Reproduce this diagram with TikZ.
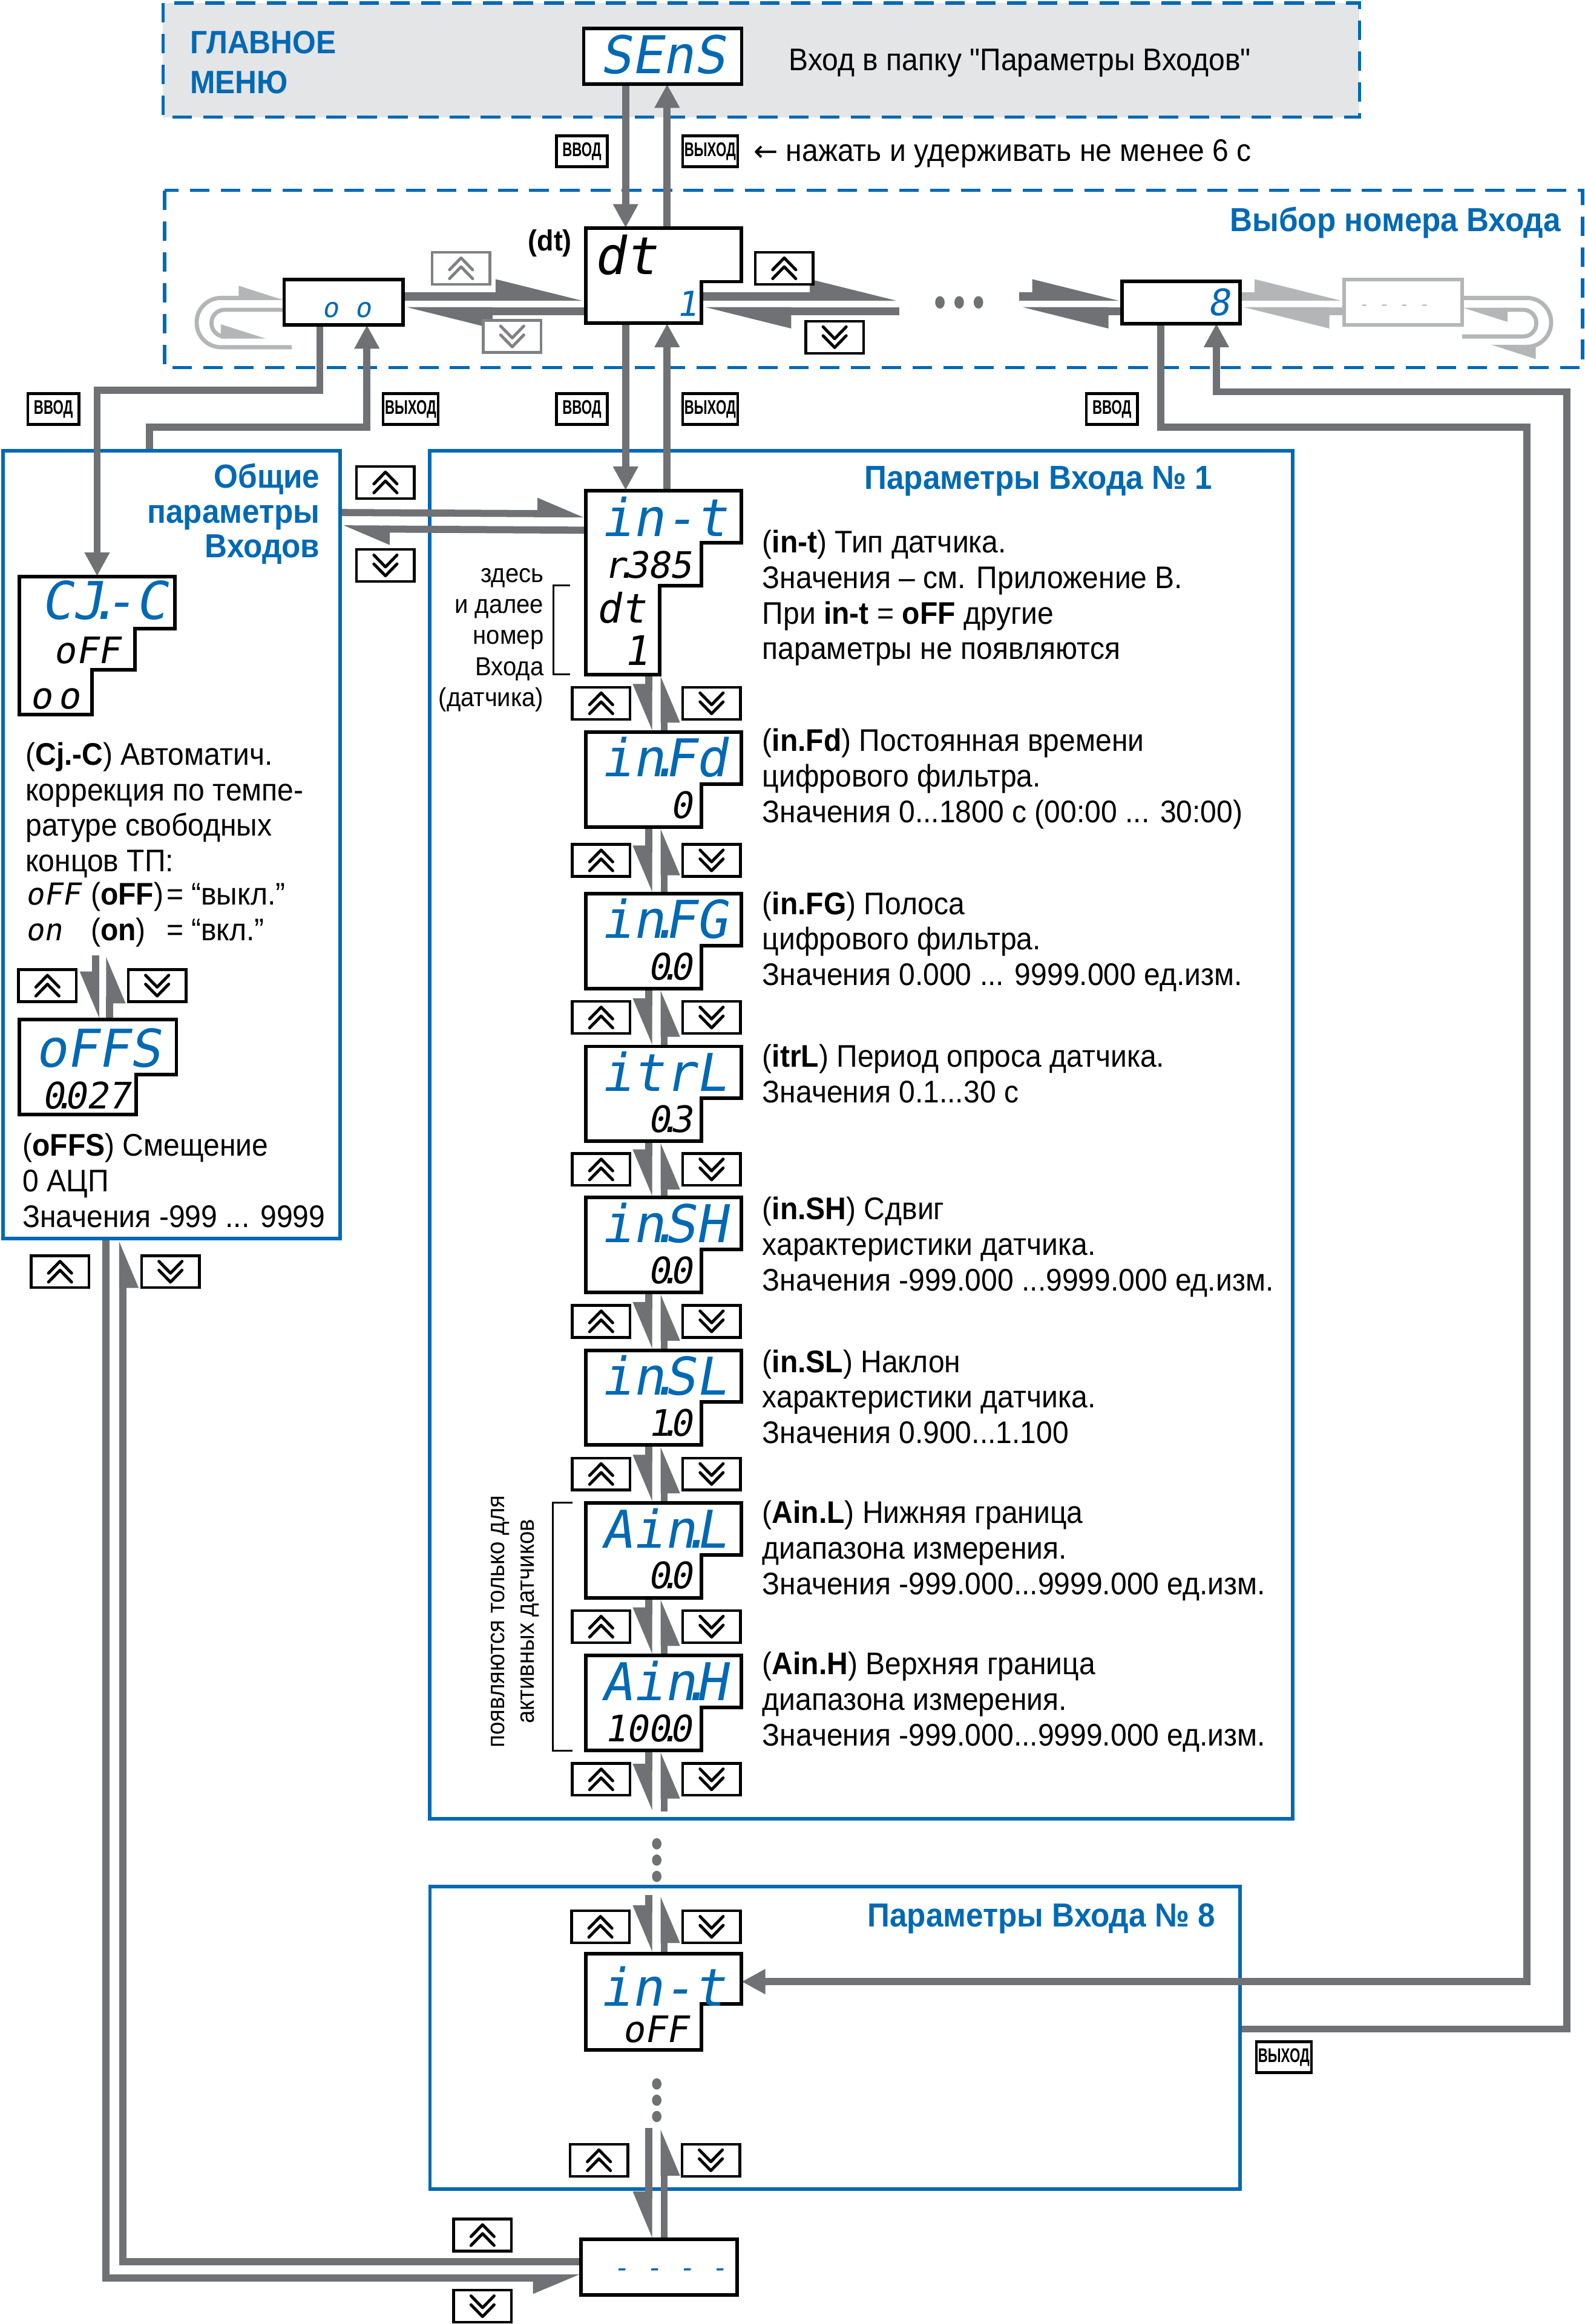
\documentclass[tikz,border=0pt]{standalone}
\usepackage{fontspec}
\setmainfont[FakeStretch=0.93, Ligatures=TeXOff]{Liberation Sans}
\newfontfamily\segfont[FakeSlant=0.18]{DejaVu Sans Mono}
\newfontfamily\keyfont[FakeStretch=0.68]{Liberation Sans}
\newfontfamily\symfont{DejaVu Sans}
\usepackage{tikz}
\usetikzlibrary{arrows.meta, positioning, calc}
\definecolor{owblue}{RGB}{0,105,180}
\definecolor{owgray}{RGB}{112,113,116}
\definecolor{owfade}{RGB}{180,181,183}
\definecolor{owmenu}{RGB}{228,229,231}
\definecolor{owkey}{RGB}{128,129,132}
\newcommand\segdot{\kern-.3em.\kern-.3em}
\tikzset{
  dashbox/.style={draw=owblue, line width=0.55mm, dash pattern=on 3.3mm off 1.9mm},
  panel/.style={rectangle, draw=owblue, line width=0.6mm, inner sep=0pt},
  area/.style={rectangle, inner sep=0pt},
  disp/.style={draw=black, fill=white, line width=0.6mm},
  bigseg/.style={font=\segfont\fontsize{25}{25}\selectfont, text=owblue, inner sep=0pt},
  midseg/.style={font=\segfont\fontsize{19.5}{20}\selectfont, inner sep=0pt},
  smallseg/.style={font=\segfont\fontsize{17.5}{18}\selectfont, inner sep=0pt},
  rowseg/.style={font=\segfont\fontsize{14.5}{15}\selectfont, inner sep=0pt},
  txt/.style={font=\fontsize{15}{17.07}\selectfont, inner sep=0pt},
  desc/.style={txt, anchor=north west, align=left},
  small/.style={font=\fontsize{12.5}{14.9}\selectfont, inner sep=0pt},
  ttl/.style={font=\bfseries\fontsize{16}{16.7}\selectfont, text=owblue, inner sep=0pt},
  keylabel/.style={rectangle, draw=black, fill=white, line width=0.45mm,
    font=\keyfont\bfseries\fontsize{9.5}{9.5}\selectfont,
    minimum width=8.6mm, minimum height=5.2mm, inner xsep=0.3mm, inner ysep=0pt},
  chev/.style={line width=0.5mm, line cap=round, line join=round},
  btn/.style={rectangle, draw=#1, fill=white, line width=0.45mm,
    minimum width=9.75mm, minimum height=5.4mm, inner sep=0pt},
  upkey/.style={btn=#1, path picture={
    \draw[chev, draw=#1]
      ([xshift=-1.95mm, yshift=-1.75mm]path picture bounding box.center) -- ++(1.95mm,2mm) -- ++(1.95mm,-2mm)
      ([xshift=-1.95mm, yshift=-0.25mm]path picture bounding box.center) -- ++(1.95mm,2mm) -- ++(1.95mm,-2mm);}},
  upkey/.default=black,
  dnkey/.style={btn=#1, path picture={
    \draw[chev, draw=#1]
      ([xshift=-1.95mm, yshift=1.75mm]path picture bounding box.center) -- ++(1.95mm,-2mm) -- ++(1.95mm,2mm)
      ([xshift=-1.95mm, yshift=0.25mm]path picture bounding box.center) -- ++(1.95mm,-2mm) -- ++(1.95mm,2mm);}},
  dnkey/.default=black,
  conn/.style={draw=owgray, line width=1.2mm},
  arr/.style={conn, -{Triangle[length=4mm, width=4mm]}},
  harpl/.style={conn, -{Triangle[harpoon, length=6.5mm, width=5mm]}},
  harpr/.style={conn, -{Triangle[harpoon, swap, length=6.5mm, width=5mm]}},
  band/.style={draw=owgray, line width=1.4mm, -{Triangle[harpoon, length=12mm, width=5.4mm]}},
  fband/.style={band, draw=owfade},
  wraparr/.style={draw=owfade, line width=0.7mm, -{Triangle[harpoon, length=6.5mm, width=3.9mm]}}
}

\begin{document}
\begin{tikzpicture}[x=0.25mm, y=-0.25mm]
  \useasboundingbox (0,0) rectangle (1069,1568);
  % frames
  \draw[dashbox, fill=owmenu] (110,2) rectangle (917,79);
  \draw[dashbox] (111,128.5) rectangle (1067.5,248);
  \node[panel, minimum width=56.875mm, minimum height=132.875mm] (gen) at (115.75,569.75) {};
  \node[panel, minimum width=145.5mm, minimum height=230.75mm] (p1) at (581,765.5) {};
  \node[panel, minimum width=136.6mm, minimum height=51mm] (p8) at (563.25,1375) {};

  % display places
  \node[area, minimum width=26.5mm, minimum height=9.25mm] (sens) at (447,38) {};
  \node[area, minimum width=26.25mm, minimum height=16mm] (dt) at (447.5,186) {};
  \node[area, minimum width=19.9mm, minimum height=7.5mm] (oo) at (231.75,204) {};
  \node[area, minimum width=20mm, minimum height=5mm] (hdots) at (647,204) {};
  \node[area, minimum width=19.75mm, minimum height=7mm] (inp8) at (796.5,204) {};
  \node[area, minimum width=19.75mm, minimum height=7.5mm] (fade) at (946.5,204) {};
  \node[area, minimum width=26.25mm, minimum height=23.25mm] (cjc) at (65.5,435.5) {};
  \node[area, minimum width=26.5mm, minimum height=16mm] (offs) at (66,720) {};
  \node[area, minimum width=26.25mm, minimum height=31mm] (d0) at (447.5,393) {};
  \foreach \i/\yy in {1/494, 2/603, 3/706, 4/808, 5/911, 6/1014, 7/1117}
    \node[area, minimum width=26.25mm, minimum height=16mm] (d\i) at (447.5,\yy+32) {};
  \node[area, minimum width=26.25mm, minimum height=16.25mm] (int8) at (447.5,1350.5) {};
  \node[area, minimum width=26.25mm, minimum height=9.25mm] (dsh) at (444.5,1529.5) {};
  \node[area, minimum size=3mm] (vdots1) at (443,1255) {};
  \node[area, minimum size=3mm] (vdots2) at (443,1417) {};

  % main menu <-> input number
  \draw[arr] ($(sens.south)+(-25,0)$) -- ($(dt.north)+(-25.5,0)$);
  \draw[arr] ($(dt.north)+(2.5,0)$) -- ($(sens.south)+(3,0)$);

  % input number row
  \draw[band] ($(oo.east)+(0,-4)$) -- ($(oo.east -| dt.west)+(0,-4)$);
  \draw[band] ($(oo.east -| dt.west)+(0,6)$) -- ($(oo.east)+(0,6)$);
  \draw[band] ($(dt.east |- oo.east)+(-27,-4)$) -- ($(hdots.west)+(0,-4)$);
  \draw[band] ($(hdots.west)+(0,6)$) -- ($(dt.east |- oo.east)+(-27,6)$);
  \draw[band] ($(hdots.east)+(0,-4)$) -- ($(inp8.west)+(0,-4)$);
  \draw[band] ($(inp8.west)+(0,6)$) -- ($(hdots.east)+(0,6)$);
  \draw[fband] ($(inp8.east)+(0,-4)$) -- ($(fade.west)+(0,-4)$);
  \draw[fband] ($(fade.west)+(0,6)$) -- ($(inp8.east)+(0,6)$);
  \foreach \x in {-13,0,13}
    \fill[owgray] ($(hdots.center)+(\x,0)$) ellipse [x radius=0.8mm, y radius=1.05mm];

  % wrap round
  \draw[wraparr, rounded corners=4.1mm] ($(oo.south west)+(5,15)$) -| ($(oo.west)+(-59,-3)$) -- ($(oo.west)+(0,-3)$);
  \draw[wraparr, rounded corners=2.2mm] ($(oo.west)+(0,5)$) -- ($(oo.west)+(-49,5)$) |- ($(oo.west)+(-12,23)$);
  \draw[wraparr, rounded corners=4.1mm] ($(fade.east)+(0,-3)$) -- ($(fade.east)+(60,-3)$) |- ($(fade.east)+(19,30)$);
  \draw[wraparr, rounded corners=2.2mm] ($(fade.east)+(0,23)$) -- ($(fade.east)+(50,23)$) |- ($(fade.east)+(0,5)$);

  % enter / exit
  \draw[arr] ($(oo.south)+(-16,0)$) |- ($(cjc.north)+(0,-125.5)$) -- (cjc.north);
  \draw[arr] ($(gen.north west)+(100,0)$) |- ($(oo.south)+(15.75,69)$) -- ($(oo.south)+(15.75,0)$);
  \draw[arr] ($(dt.south)+(-25.5,0)$) -- ($(d0.north)+(-25.5,0)$);
  \draw[arr] ($(d0.north)+(2.5,0)$) -- ($(dt.south)+(2.5,0)$);
  \draw[arr] ($(inp8.south)+(-13.5,0)$) |- ($(inp8.south)+(233.5,70)$) |- ($(int8.east)+(0,-13.5)$);
  \draw[arr] ($(p8.east)+(0,-6)$) -| ($(inp8.south)+(260.5,46)$) -| ($(inp8.south)+(24,0)$);

  % general <-> input 1, general <-> end
  \draw[harpl] ($(gen.north east)+(0,43)$) -- ($(d0.north west)+(0,16)$);
  \draw[harpl] ($(d0.north west)+(0,27)$) -- ($(gen.north east)+(0,54)$);
  \draw[harpr] ($(gen.south west)+(70.5,0)$) |- ($(dsh.west)+(0,7.5)$);
  \draw[harpr] ($(dsh.west)+(0,-3.5)$) -| ($(gen.south west)+(82,0)$);
  \draw[harpr] ($(offs.north)+(-1.5,-43)$) -- ($(offs.north)+(-1.5,0)$);
  \draw[harpr] ($(offs.north)+(8,0)$) -- ($(offs.north)+(8,-43)$);

  % parameter steps
  \foreach \a/\b in {d0/d1, d1/d2, d2/d3, d3/d4, d4/d5, d5/d6, d6/d7} {
    \draw[harpr] ($(\a.south)+(-10,0)$) -- ($(\b.north)+(-10,0)$);
    \draw[harpr] ($(\b.north)+(0.5,0)$) -- ($(\a.south)+(0.5,0)$);
  }
  \draw[harpr] ($(d7.south)+(-10,0)$) -- ($(d7.south)+(-10,41)$);
  \draw[harpr] ($(d7.south)+(0.5,41)$) -- ($(d7.south)+(0.5,0)$);
  \foreach \y in {-11,0,11}
    \fill[owgray] ($(vdots1.center)+(0,\y)$) ellipse [x radius=0.8mm, y radius=0.95mm];
  \draw[harpr] ($(int8.north)+(-10,-39)$) -- ($(int8.north)+(-10,0)$);
  \draw[harpr] ($(int8.north)+(0.5,0)$) -- ($(int8.north)+(0.5,-39)$);
  \foreach \y in {-11,0,11}
    \fill[owgray] ($(vdots2.center)+(0,\y)$) ellipse [x radius=0.8mm, y radius=0.95mm];
  \draw[harpr] ($(dsh.north)+(-7,-75)$) -- ($(dsh.north)+(-7,0)$);
  \draw[harpr] ($(dsh.north)+(3.5,0)$) -- ($(dsh.north)+(3.5,-75)$);

  % displays
  \draw[disp] (sens.south west) rectangle (sens.north east);
  \node[bigseg] (senst) at (447,37) {SEnS};
  \draw[disp] (395,154) -- (500,154) -- (500,190) -- (473,190) -- (473,218) -- (395,218) -- cycle;
  \node[bigseg, text=black] (dtt) at (422,172) {dt};
  \node[smallseg, text=owblue, font=\segfont\fontsize{16.5}{17}\selectfont] (dtn) at (463,205) {1};
  \draw[disp] (oo.south west) rectangle (oo.north east);
  \node[text=owblue, font=\segfont\fontsize{13}{13}\selectfont, inner sep=0pt] (oot) at (234,209) {o o};
  \draw[disp] (inp8.south west) rectangle (inp8.north east);
  \node[smallseg, text=owblue] (inp8t) at (822,204) {8};
  \draw[disp, draw=owfade] (fade.south west) rectangle (fade.north east);
  \node[text=owfade, font=\segfont\fontsize{8}{8}\selectfont, inner sep=0pt] (fadet) at (940,207.5) {- - - -};

  \draw[disp] (13,389) -- (118,389) -- (118,424) -- (91,424) -- (91,452) -- (62,452) -- (62,482) -- (13,482) -- cycle;
  \node[bigseg] (cjct) at (70,405) {CJ\segdot -C};
  \node[smallseg, anchor=east] (cjcv) at (81,439) {oFF};
  \node[smallseg] (cjcn) at (37,471.5) {o\kern.15em o};
  \draw[disp] (13,688) -- (119,688) -- (119,725) -- (92,725) -- (92,752) -- (13,752) -- cycle;
  \node[bigseg] (offst) at (66,707) {oFFS};
  \node[smallseg, anchor=east] (offsv) at (88,739) {0\segdot 027};

  \draw[disp] (395,331) -- (500,331) -- (500,366) -- (473,366) -- (473,395) -- (445,395) -- (445,455) -- (395,455) -- cycle;
  \node[bigseg] (d0t) at (448,348.5) {in-t};
  \node[smallseg] (d0r) at (437,381) {r\segdot 385};
  \node[midseg] (d0d) at (419,410) {dt};
  \node[midseg] (d0n) at (429,439) {1};
  \foreach \i/\yy/\nm/\val in {1/494/{in\segdot Fd}/0, 2/603/{in\segdot FG}/{0\segdot 0},
      3/706/{itrL}/{0\segdot 3}, 4/808/{in\segdot SH}/{0\segdot 0}, 5/911/{in\segdot SL}/{1\segdot 0},
      6/1014/{Ain\segdot L}/{0\segdot 0}, 7/1117/{Ain\segdot H}/{100\segdot 0}} {
    \draw[disp] (395,\yy) -- (500,\yy) -- (500,\yy+35) -- (473,\yy+35) -- (473,\yy+64) -- (395,\yy+64) -- cycle;
    \node[bigseg] (n\i) at (448,\yy+17) {\nm};
    \node[smallseg, anchor=east] (v\i) at (467,\yy+49) {\val};
  }
  \draw[disp] (395,1318) -- (500,1318) -- (500,1352) -- (473,1352) -- (473,1383) -- (395,1383) -- cycle;
  \node[bigseg] (int8t) at (447,1340) {in-t};
  \node[smallseg] (int8v) at (442,1369) {oFF};
  \draw[disp] (dsh.south west) rectangle (dsh.north east);
  \node[text=owblue, font=\segfont\fontsize{13}{13}\selectfont, inner sep=0pt] (dsht) at (452,1533.5) {- - - -};

  % keys
  \node[upkey=owkey] (kfu) at (311,181) {};
  \node[dnkey=owkey] (kfd) at (345.5,227) {};
  \node[upkey] (kbu) at (529,181) {};
  \node[dnkey] (kbd) at (563,227.5) {};
  \node[upkey] (kgu) at (260,325.5) {};
  \node[dnkey] (kgd) at (260,381.5) {};
  \node[upkey] (kcu) at (32,665) {};
  \node[dnkey] (kcd) at (106,665) {};
  \node[upkey] (keu) at (40.5,858) {};
  \node[dnkey] (ked) at (115,858) {};
  \foreach \a/\b in {d0/d1, d1/d2, d2/d3, d3/d4, d4/d5, d5/d6, d6/d7} {
    \node[upkey] (ku\b) at ($(\a.south)!0.5!(\b.north)+(-42,0)$) {};
    \node[dnkey] (kd\b) at ($(\a.south)!0.5!(\b.north)+(32.5,0)$) {};
  }
  \node[upkey] (kul) at (405.5,1200.5) {};
  \node[dnkey] (kdl) at (480,1200.5) {};
  \node[upkey] (k8u) at (405,1300) {};
  \node[dnkey] (k8d) at (480,1300) {};
  \node[upkey] (k8eu) at (404,1457.5) {};
  \node[dnkey] (k8ed) at (479.5,1457.5) {};
  \node[upkey] (kzu) at (325.5,1508) {};
  \node[dnkey] (kzd) at (325.5,1556) {};

  % enter / exit labels
  \node[keylabel] (lin1) at (392.5,102) {ВВОД};
  \node[keylabel] (lout1) at (479,102) {ВЫХОД};
  \node[txt, anchor=base west] (holdtxt) at (508,108.6) {{\symfont\fontsize{14}{14}\selectfont ←} нажать и удерживать не менее 6 с};
  \node[keylabel] (lin2) at (36,276) {ВВОД};
  \node[keylabel] (lout2) at (277,276) {ВЫХОД};
  \node[keylabel] (lin3) at (392.5,276) {ВВОД};
  \node[keylabel] (lout3) at (479,276) {ВЫХОД};
  \node[keylabel] (lin4) at (750,276) {ВВОД};
  \node[keylabel] (lout4) at (866,1388) {ВЫХОД};

  % titles
  \node[ttl, anchor=base west, font=\bfseries\fontsize{15.5}{16}\selectfont] (mm1) at (128,36) {ГЛАВНОЕ};
  \node[ttl, anchor=base west, font=\bfseries\fontsize{15.5}{16}\selectfont] (mm2) at (128,63) {МЕНЮ};
  \node[txt, anchor=base west] (senstxt) at (532,47.6) {Вход в папку "Параметры Входов"};
  \node[ttl, anchor=base east] (selt) at (1053,156) {Выбор номера Входа};
  \node[font=\bfseries\fontsize{14}{14}\selectfont, inner sep=0pt, anchor=base] (dtlbl) at (371,169) {(dt)};
  \node[ttl, anchor=north east, align=right] (gent) at (216,312.5) {\strut Общие\\параметры\\Входов};
  \node[ttl, anchor=base east] (p1t) at (818,330) {Параметры Входа № 1};
  \node[ttl, anchor=base east] (p8t) at (820,1300) {Параметры Входа № 8};

  % general parameters texts
  \node[desc] (cjcd) at (17,499) {\strut(\textbf{Cj.-C}) Автоматич.\\коррекция по темпе-\\ратуре свободных\\концов ТП:};
  \node[rowseg, anchor=base west] (offr) at (17,610.6) {oFF};
  \node[txt, anchor=base west] (offb) at (61,610.6) {(\textbf{oFF})};
  \node[txt, anchor=base west] (offq) at (112,610.6) {= “выкл.”};
  \node[rowseg, anchor=base west] (onr) at (17,634.6) {on};
  \node[txt, anchor=base west] (onb) at (61,634.6) {(\textbf{on})};
  \node[txt, anchor=base west] (onq) at (112,634.6) {= “вкл.”};
  \node[desc] (offsd) at (15,763) {\strut(\textbf{oFFS}) Смещение\\0 АЦП\\Значения -999 ... 9999};

  % input parameter texts
  \node[small, anchor=north east, align=right] (herenote) at (367,377.8) {\strut здесь\\и далее\\номер\\Входа\\(датчика)};
  \draw[line width=0.3mm] (384.5,395) -| (373.5,455) -- (384.5,455);
  \node[small, rotate=90, align=center, font=\fontsize{12}{14.2}\selectfont] (actnote) at (347.5,1094) {появляются только для\\активных датчиков};
  \draw[line width=0.3mm] (386,1014) -| (373,1181) -- (386,1181);
  \node[desc] (t0) at (514,355.8) {\strut(\textbf{in-t}) Тип датчика.\\Значения – см. Приложение В.\\При \textbf{in-t} = \textbf{oFF} другие\\параметры не появляются};
  \node[desc] (t1) at (514,489.8) {\strut(\textbf{in.Fd}) Постоянная времени\\цифрового фильтра.\\Значения 0...1800 с (00:00 ... 30:00)};
  \node[desc] (t2) at (514,599.8) {\strut(\textbf{in.FG}) Полоса\\цифрового фильтра.\\Значения 0.000 ... 9999.000 ед.изм.};
  \node[desc] (t3) at (514,702.8) {\strut(\textbf{itrL}) Период опроса датчика.\\Значения 0.1...30 с};
  \node[desc] (t4) at (514,805.8) {\strut(\textbf{in.SH}) Сдвиг\\характеристики датчика.\\Значения -999.000 ...9999.000 ед.изм.};
  \node[desc] (t5) at (514,908.8) {\strut(\textbf{in.SL}) Наклон\\характеристики датчика.\\Значения 0.900...1.100};
  \node[desc] (t6) at (514,1010.8) {\strut(\textbf{Ain.L}) Нижняя граница\\диапазона измерения.\\Значения -999.000...9999.000 ед.изм.};
  \node[desc] (t7) at (514,1112.8) {\strut(\textbf{Ain.H}) Верхняя граница\\диапазона измерения.\\Значения -999.000...9999.000 ед.изм.};
\end{tikzpicture}
\end{document}
